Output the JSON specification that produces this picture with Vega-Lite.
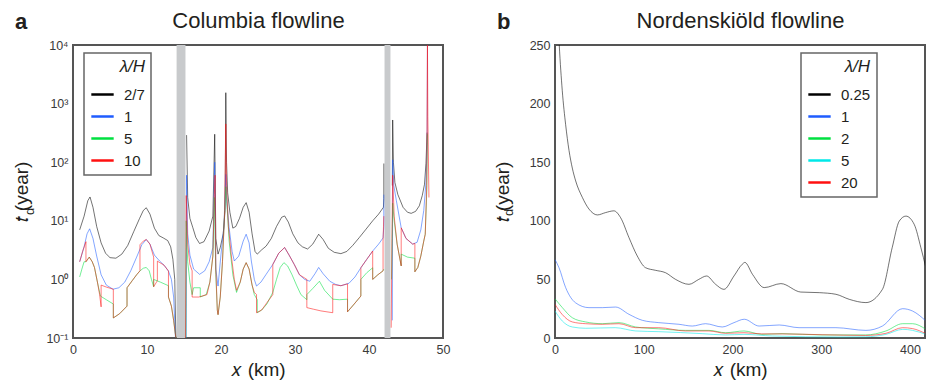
{
"$schema":"https://vega.github.io/schema/vega-lite/v6.json",
"background":"white",
"padding":{"left":11,"top":8,"right":1,"bottom":4},
"datasets":{
"columbia":[
{"s":"2/7","g":1,"i":1,"x":0.9,"y":7},{"s":"2/7","g":1,"i":2,"x":1.5,"y":12},{"s":"2/7","g":1,"i":3,"x":2.0,"y":22},{"s":"2/7","g":1,"i":4,"x":2.3,"y":25.5},{"s":"2/7","g":1,"i":5,"x":2.7,"y":17},{"s":"2/7","g":1,"i":6,"x":3.2,"y":8},{"s":"2/7","g":1,"i":7,"x":3.8,"y":4.2},{"s":"2/7","g":1,"i":8,"x":4.4,"y":2.8},{"s":"2/7","g":1,"i":9,"x":5.0,"y":2.35},{"s":"2/7","g":1,"i":10,"x":5.8,"y":2.3},{"s":"2/7","g":1,"i":11,"x":6.6,"y":2.7},{"s":"2/7","g":1,"i":12,"x":7.4,"y":3.8},{"s":"2/7","g":1,"i":13,"x":8.2,"y":6.5},{"s":"2/7","g":1,"i":14,"x":9.0,"y":11},{"s":"2/7","g":1,"i":15,"x":9.5,"y":15},{"s":"2/7","g":1,"i":16,"x":9.9,"y":16.7},{"s":"2/7","g":1,"i":17,"x":10.4,"y":13},{"s":"2/7","g":1,"i":18,"x":11.0,"y":7.5},{"s":"2/7","g":1,"i":19,"x":11.6,"y":5.6},{"s":"2/7","g":1,"i":20,"x":12.2,"y":5.1},{"s":"2/7","g":1,"i":21,"x":12.8,"y":4.6},{"s":"2/7","g":1,"i":22,"x":13.2,"y":3.6},{"s":"2/7","g":1,"i":23,"x":13.5,"y":2.2},{"s":"2/7","g":1,"i":24,"x":13.75,"y":1.0},{"s":"2/7","g":1,"i":25,"x":13.9,"y":0.1},
{"s":"2/7","g":2,"i":1,"x":15.35,"y":290},{"s":"2/7","g":2,"i":2,"x":15.5,"y":25},{"s":"2/7","g":2,"i":3,"x":15.8,"y":11},{"s":"2/7","g":2,"i":4,"x":16.2,"y":7.6},{"s":"2/7","g":2,"i":5,"x":16.6,"y":5.2},{"s":"2/7","g":2,"i":6,"x":17.1,"y":4.1},{"s":"2/7","g":2,"i":7,"x":17.7,"y":4.4},{"s":"2/7","g":2,"i":8,"x":18.4,"y":6.7},{"s":"2/7","g":2,"i":9,"x":18.9,"y":12},{"s":"2/7","g":2,"i":10,"x":19.15,"y":300},{"s":"2/7","g":2,"i":11,"x":19.3,"y":5},{"s":"2/7","g":2,"i":12,"x":19.6,"y":2.7},{"s":"2/7","g":2,"i":13,"x":19.9,"y":3.5},{"s":"2/7","g":2,"i":14,"x":20.3,"y":6},{"s":"2/7","g":2,"i":15,"x":20.55,"y":15},{"s":"2/7","g":2,"i":16,"x":20.65,"y":1535},{"s":"2/7","g":2,"i":17,"x":20.75,"y":100},{"s":"2/7","g":2,"i":18,"x":20.9,"y":30},{"s":"2/7","g":2,"i":19,"x":21.2,"y":14},{"s":"2/7","g":2,"i":20,"x":21.6,"y":7.5},{"s":"2/7","g":2,"i":21,"x":22.0,"y":8},{"s":"2/7","g":2,"i":22,"x":22.5,"y":11},{"s":"2/7","g":2,"i":23,"x":23.0,"y":17},{"s":"2/7","g":2,"i":24,"x":23.4,"y":20.4},{"s":"2/7","g":2,"i":25,"x":23.8,"y":14},{"s":"2/7","g":2,"i":26,"x":24.2,"y":6},{"s":"2/7","g":2,"i":27,"x":24.6,"y":3},{"s":"2/7","g":2,"i":28,"x":24.9,"y":2.7},{"s":"2/7","g":2,"i":29,"x":25.5,"y":3.2},{"s":"2/7","g":2,"i":30,"x":26.1,"y":3.7},{"s":"2/7","g":2,"i":31,"x":26.8,"y":5},{"s":"2/7","g":2,"i":32,"x":27.5,"y":8},{"s":"2/7","g":2,"i":33,"x":28.2,"y":11.5},{"s":"2/7","g":2,"i":34,"x":28.6,"y":12.1},{"s":"2/7","g":2,"i":35,"x":29.1,"y":9.5},{"s":"2/7","g":2,"i":36,"x":29.7,"y":6},{"s":"2/7","g":2,"i":37,"x":30.4,"y":4.2},{"s":"2/7","g":2,"i":38,"x":31.0,"y":3.6},{"s":"2/7","g":2,"i":39,"x":31.7,"y":3.3},{"s":"2/7","g":2,"i":40,"x":32.4,"y":4},{"s":"2/7","g":2,"i":41,"x":33.2,"y":5.9},{"s":"2/7","g":2,"i":42,"x":33.8,"y":4.8},{"s":"2/7","g":2,"i":43,"x":34.5,"y":3.4},{"s":"2/7","g":2,"i":44,"x":35.3,"y":2.9},{"s":"2/7","g":2,"i":45,"x":36.2,"y":2.75},{"s":"2/7","g":2,"i":46,"x":37.0,"y":3.0},{"s":"2/7","g":2,"i":47,"x":37.8,"y":3.8},{"s":"2/7","g":2,"i":48,"x":38.7,"y":5.2},{"s":"2/7","g":2,"i":49,"x":39.6,"y":7.2},{"s":"2/7","g":2,"i":50,"x":40.5,"y":10},{"s":"2/7","g":2,"i":51,"x":41.3,"y":13},{"s":"2/7","g":2,"i":52,"x":41.95,"y":17},{"s":"2/7","g":2,"i":53,"x":42.0,"y":24},{"s":"2/7","g":2,"i":54,"x":42.0,"y":95},
{"s":"2/7","g":3,"i":1,"x":43.15,"y":40},{"s":"2/7","g":3,"i":2,"x":43.2,"y":525},{"s":"2/7","g":3,"i":3,"x":43.3,"y":100},{"s":"2/7","g":3,"i":4,"x":43.5,"y":45},{"s":"2/7","g":3,"i":5,"x":43.9,"y":28},{"s":"2/7","g":3,"i":6,"x":44.6,"y":17},{"s":"2/7","g":3,"i":7,"x":45.2,"y":14},{"s":"2/7","g":3,"i":8,"x":45.7,"y":13.4},{"s":"2/7","g":3,"i":9,"x":46.3,"y":14.5},{"s":"2/7","g":3,"i":10,"x":46.8,"y":18},{"s":"2/7","g":3,"i":11,"x":47.2,"y":27},{"s":"2/7","g":3,"i":12,"x":47.5,"y":42},{"s":"2/7","g":3,"i":13,"x":47.7,"y":96},{"s":"2/7","g":3,"i":14,"x":47.85,"y":320},
{"s":"1","g":1,"i":1,"x":0.9,"y":2.0},{"s":"1","g":1,"i":2,"x":1.5,"y":3.6},{"s":"1","g":1,"i":3,"x":1.9,"y":6},{"s":"1","g":1,"i":4,"x":2.25,"y":7.3},{"s":"1","g":1,"i":5,"x":2.7,"y":5},{"s":"1","g":1,"i":6,"x":3.2,"y":2.5},{"s":"1","g":1,"i":7,"x":3.8,"y":1.2},{"s":"1","g":1,"i":8,"x":4.5,"y":0.8},{"s":"1","g":1,"i":9,"x":5.4,"y":0.68},{"s":"1","g":1,"i":10,"x":6.2,"y":0.72},{"s":"1","g":1,"i":11,"x":7.0,"y":0.9},{"s":"1","g":1,"i":12,"x":7.8,"y":1.4},{"s":"1","g":1,"i":13,"x":8.6,"y":2.4},{"s":"1","g":1,"i":14,"x":9.3,"y":3.9},{"s":"1","g":1,"i":15,"x":9.9,"y":4.8},{"s":"1","g":1,"i":16,"x":10.4,"y":4.0},{"s":"1","g":1,"i":17,"x":11.0,"y":2.6},{"s":"1","g":1,"i":18,"x":11.7,"y":2.06},{"s":"1","g":1,"i":19,"x":12.3,"y":1.75},{"s":"1","g":1,"i":20,"x":12.9,"y":1.39},{"s":"1","g":1,"i":21,"x":13.3,"y":1.0},{"s":"1","g":1,"i":22,"x":13.6,"y":0.5},{"s":"1","g":1,"i":23,"x":13.85,"y":0.1},
{"s":"1","g":2,"i":1,"x":15.3,"y":0.1},{"s":"1","g":2,"i":2,"x":15.35,"y":60},{"s":"1","g":2,"i":3,"x":15.5,"y":6},{"s":"1","g":2,"i":4,"x":15.8,"y":2.6},{"s":"1","g":2,"i":5,"x":16.3,"y":1.5},{"s":"1","g":2,"i":6,"x":17.1,"y":1.22},{"s":"1","g":2,"i":7,"x":17.8,"y":1.4},{"s":"1","g":2,"i":8,"x":18.4,"y":2.0},{"s":"1","g":2,"i":9,"x":18.9,"y":3.5},{"s":"1","g":2,"i":10,"x":19.15,"y":100},{"s":"1","g":2,"i":11,"x":19.3,"y":1.5},{"s":"1","g":2,"i":12,"x":19.6,"y":0.77},{"s":"1","g":2,"i":13,"x":20.0,"y":2.7},{"s":"1","g":2,"i":14,"x":20.4,"y":8},{"s":"1","g":2,"i":15,"x":20.65,"y":62},{"s":"1","g":2,"i":16,"x":20.8,"y":20},{"s":"1","g":2,"i":17,"x":21.1,"y":7.6},{"s":"1","g":2,"i":18,"x":21.5,"y":3.0},{"s":"1","g":2,"i":19,"x":21.8,"y":2.06},{"s":"1","g":2,"i":20,"x":22.4,"y":2.5},{"s":"1","g":2,"i":21,"x":23.0,"y":4.5},{"s":"1","g":2,"i":22,"x":23.4,"y":5.9},{"s":"1","g":2,"i":23,"x":23.8,"y":4.2},{"s":"1","g":2,"i":24,"x":24.1,"y":2.06},{"s":"1","g":2,"i":25,"x":24.5,"y":1.0},{"s":"1","g":2,"i":26,"x":24.8,"y":0.77},{"s":"1","g":2,"i":27,"x":25.4,"y":0.9},{"s":"1","g":2,"i":28,"x":26.1,"y":1.22},{"s":"1","g":2,"i":29,"x":27.0,"y":1.8},{"s":"1","g":2,"i":30,"x":27.8,"y":2.8},{"s":"1","g":2,"i":31,"x":28.6,"y":3.5},{"s":"1","g":2,"i":32,"x":29.2,"y":2.6},{"s":"1","g":2,"i":33,"x":29.9,"y":1.8},{"s":"1","g":2,"i":34,"x":30.6,"y":1.2},{"s":"1","g":2,"i":35,"x":31.3,"y":1.0},{"s":"1","g":2,"i":36,"x":32.0,"y":0.93},{"s":"1","g":2,"i":37,"x":32.7,"y":1.25},{"s":"1","g":2,"i":38,"x":33.2,"y":1.6},{"s":"1","g":2,"i":39,"x":33.8,"y":1.25},{"s":"1","g":2,"i":40,"x":34.7,"y":0.93},{"s":"1","g":2,"i":41,"x":35.5,"y":0.82},{"s":"1","g":2,"i":42,"x":36.2,"y":0.78},{"s":"1","g":2,"i":43,"x":37.3,"y":0.86},{"s":"1","g":2,"i":44,"x":38.1,"y":1.1},{"s":"1","g":2,"i":45,"x":38.9,"y":1.58},{"s":"1","g":2,"i":46,"x":39.7,"y":2.2},{"s":"1","g":2,"i":47,"x":40.5,"y":3.05},{"s":"1","g":2,"i":48,"x":41.3,"y":4.0},{"s":"1","g":2,"i":49,"x":41.9,"y":5.1},{"s":"1","g":2,"i":50,"x":42.0,"y":8},{"s":"1","g":2,"i":51,"x":42.0,"y":28},
{"s":"1","g":3,"i":1,"x":43.15,"y":0.2},{"s":"1","g":3,"i":2,"x":43.2,"y":110},{"s":"1","g":3,"i":3,"x":43.35,"y":40},{"s":"1","g":3,"i":4,"x":43.7,"y":22},{"s":"1","g":3,"i":5,"x":44.35,"y":7.6},{"s":"1","g":3,"i":6,"x":45.0,"y":5},{"s":"1","g":3,"i":7,"x":45.9,"y":4.0},{"s":"1","g":3,"i":8,"x":46.5,"y":4.3},{"s":"1","g":3,"i":9,"x":47.0,"y":7},{"s":"1","g":3,"i":10,"x":47.4,"y":15},{"s":"1","g":3,"i":11,"x":47.7,"y":45},{"s":"1","g":3,"i":12,"x":47.85,"y":200},{"s":"1","g":3,"i":13,"x":47.9,"y":10000},
{"s":"5","g":1,"i":1,"x":0.9,"y":1.1},{"s":"5","g":1,"i":2,"x":1.2,"y":1.5},{"s":"5","g":1,"i":3,"x":1.5,"y":2.0},{"s":"5","g":1,"i":4,"x":1.75,"y":2.0},{"s":"5","g":1,"i":5,"x":2.2,"y":2.4},{"s":"5","g":1,"i":6,"x":2.6,"y":2.0},{"s":"5","g":1,"i":7,"x":2.9,"y":1.6},{"s":"5","g":1,"i":8,"x":3.3,"y":0.9},{"s":"5","g":1,"i":9,"x":3.7,"y":0.52},{"s":"5","g":1,"i":10,"x":4.5,"y":0.45},{"s":"5","g":1,"i":11,"x":5.45,"y":0.38},{"s":"5","g":1,"i":12,"x":5.45,"y":0.22},{"s":"5","g":1,"i":13,"x":6.3,"y":0.26},{"s":"5","g":1,"i":14,"x":7.3,"y":0.35},{"s":"5","g":1,"i":15,"x":7.3,"y":0.72},{"s":"5","g":1,"i":16,"x":8.0,"y":0.95},{"s":"5","g":1,"i":17,"x":8.6,"y":1.2},{"s":"5","g":1,"i":18,"x":9.05,"y":1.4},{"s":"5","g":1,"i":19,"x":9.5,"y":1.55},{"s":"5","g":1,"i":20,"x":9.9,"y":1.6},{"s":"5","g":1,"i":21,"x":10.3,"y":1.4},{"s":"5","g":1,"i":22,"x":10.6,"y":1.0},{"s":"5","g":1,"i":23,"x":10.9,"y":0.75},{"s":"5","g":1,"i":24,"x":10.9,"y":1.0},{"s":"5","g":1,"i":25,"x":11.8,"y":0.9},{"s":"5","g":1,"i":26,"x":12.9,"y":0.78},{"s":"5","g":1,"i":27,"x":12.9,"y":0.5},{"s":"5","g":1,"i":28,"x":13.3,"y":0.35},{"s":"5","g":1,"i":29,"x":13.6,"y":0.2},{"s":"5","g":1,"i":30,"x":13.9,"y":0.1},
{"s":"5","g":2,"i":1,"x":15.25,"y":0.1},{"s":"5","g":2,"i":2,"x":15.3,"y":10},{"s":"5","g":2,"i":3,"x":15.5,"y":2},{"s":"5","g":2,"i":4,"x":15.8,"y":0.9},{"s":"5","g":2,"i":5,"x":16.1,"y":0.55},{"s":"5","g":2,"i":6,"x":16.3,"y":0.72},{"s":"5","g":2,"i":7,"x":17.2,"y":0.72},{"s":"5","g":2,"i":8,"x":17.2,"y":0.5},{"s":"5","g":2,"i":9,"x":18.0,"y":0.55},{"s":"5","g":2,"i":10,"x":18.5,"y":0.9},{"s":"5","g":2,"i":11,"x":18.9,"y":2.5},{"s":"5","g":2,"i":12,"x":19.1,"y":25},{"s":"5","g":2,"i":13,"x":19.3,"y":1.2},{"s":"5","g":2,"i":14,"x":19.5,"y":0.3},{"s":"5","g":2,"i":15,"x":19.6,"y":0.25},{"s":"5","g":2,"i":16,"x":19.9,"y":0.5},{"s":"5","g":2,"i":17,"x":20.2,"y":2},{"s":"5","g":2,"i":18,"x":20.5,"y":15},{"s":"5","g":2,"i":19,"x":20.65,"y":38},{"s":"5","g":2,"i":20,"x":20.8,"y":20},{"s":"5","g":2,"i":21,"x":21.1,"y":4.5},{"s":"5","g":2,"i":22,"x":21.6,"y":1.2},{"s":"5","g":2,"i":23,"x":22.1,"y":0.6},{"s":"5","g":2,"i":24,"x":22.6,"y":0.9},{"s":"5","g":2,"i":25,"x":23.0,"y":1.5},{"s":"5","g":2,"i":26,"x":23.4,"y":1.93},{"s":"5","g":2,"i":27,"x":23.8,"y":1.5},{"s":"5","g":2,"i":28,"x":24.2,"y":0.8},{"s":"5","g":2,"i":29,"x":24.5,"y":0.55},{"s":"5","g":2,"i":30,"x":24.9,"y":0.45},{"s":"5","g":2,"i":31,"x":24.9,"y":0.27},{"s":"5","g":2,"i":32,"x":25.5,"y":0.3},{"s":"5","g":2,"i":33,"x":26.2,"y":0.38},{"s":"5","g":2,"i":34,"x":27.0,"y":0.6},{"s":"5","g":2,"i":35,"x":27.5,"y":1.0},{"s":"5","g":2,"i":36,"x":28.0,"y":1.6},{"s":"5","g":2,"i":37,"x":28.5,"y":1.93},{"s":"5","g":2,"i":38,"x":29.0,"y":1.7},{"s":"5","g":2,"i":39,"x":29.6,"y":1.2},{"s":"5","g":2,"i":40,"x":30.2,"y":0.8},{"s":"5","g":2,"i":41,"x":30.8,"y":0.55},{"s":"5","g":2,"i":42,"x":31.6,"y":0.45},{"s":"5","g":2,"i":43,"x":31.6,"y":0.55},{"s":"5","g":2,"i":44,"x":32.4,"y":0.7},{"s":"5","g":2,"i":45,"x":33.3,"y":0.93},{"s":"5","g":2,"i":46,"x":34.0,"y":0.65},{"s":"5","g":2,"i":47,"x":35.1,"y":0.46},{"s":"5","g":2,"i":48,"x":36.0,"y":0.45},{"s":"5","g":2,"i":49,"x":37.1,"y":0.46},{"s":"5","g":2,"i":50,"x":37.1,"y":0.28},{"s":"5","g":2,"i":51,"x":38.0,"y":0.38},{"s":"5","g":2,"i":52,"x":38.9,"y":0.52},{"s":"5","g":2,"i":53,"x":38.9,"y":1.0},{"s":"5","g":2,"i":54,"x":39.7,"y":1.3},{"s":"5","g":2,"i":55,"x":40.5,"y":1.58},{"s":"5","g":2,"i":56,"x":40.5,"y":1.0},{"s":"5","g":2,"i":57,"x":41.2,"y":1.2},{"s":"5","g":2,"i":58,"x":41.9,"y":1.4},{"s":"5","g":2,"i":59,"x":42.0,"y":1.5},
{"s":"5","g":3,"i":1,"x":43.05,"y":1.0},{"s":"5","g":3,"i":2,"x":43.2,"y":20},{"s":"5","g":3,"i":3,"x":43.4,"y":10},{"s":"5","g":3,"i":4,"x":43.8,"y":4},{"s":"5","g":3,"i":5,"x":44.35,"y":1.7},{"s":"5","g":3,"i":6,"x":44.35,"y":2.7},{"s":"5","g":3,"i":7,"x":45.2,"y":2.4},{"s":"5","g":3,"i":8,"x":46.2,"y":2.3},{"s":"5","g":3,"i":9,"x":46.2,"y":1.35},{"s":"5","g":3,"i":10,"x":46.6,"y":1.6},{"s":"5","g":3,"i":11,"x":47.0,"y":2.5},{"s":"5","g":3,"i":12,"x":47.4,"y":4.5},{"s":"5","g":3,"i":13,"x":47.6,"y":5.9},{"s":"5","g":3,"i":14,"x":47.8,"y":30},{"s":"5","g":3,"i":15,"x":47.9,"y":300},
{"s":"10","g":1,"i":1,"x":0.9,"y":2.0},{"s":"10","g":1,"i":2,"x":1.3,"y":3.0},{"s":"10","g":1,"i":3,"x":1.75,"y":4.4},{"s":"10","g":1,"i":4,"x":1.75,"y":2.0},{"s":"10","g":1,"i":5,"x":2.2,"y":2.4},{"s":"10","g":1,"i":6,"x":2.6,"y":2.0},{"s":"10","g":1,"i":7,"x":2.9,"y":1.6},{"s":"10","g":1,"i":8,"x":3.3,"y":0.9},{"s":"10","g":1,"i":9,"x":3.6,"y":0.55},{"s":"10","g":1,"i":10,"x":3.8,"y":0.34},{"s":"10","g":1,"i":11,"x":3.8,"y":0.8},{"s":"10","g":1,"i":12,"x":4.5,"y":0.74},{"s":"10","g":1,"i":13,"x":5.45,"y":0.68},{"s":"10","g":1,"i":14,"x":5.45,"y":0.22},{"s":"10","g":1,"i":15,"x":6.3,"y":0.26},{"s":"10","g":1,"i":16,"x":7.3,"y":0.35},{"s":"10","g":1,"i":17,"x":7.3,"y":0.72},{"s":"10","g":1,"i":18,"x":8.0,"y":0.95},{"s":"10","g":1,"i":19,"x":8.6,"y":1.2},{"s":"10","g":1,"i":20,"x":9.05,"y":1.4},{"s":"10","g":1,"i":21,"x":9.05,"y":3.9},{"s":"10","g":1,"i":22,"x":9.5,"y":4.5},{"s":"10","g":1,"i":23,"x":9.9,"y":4.8},{"s":"10","g":1,"i":24,"x":10.4,"y":4.0},{"s":"10","g":1,"i":25,"x":10.9,"y":2.4},{"s":"10","g":1,"i":26,"x":10.9,"y":0.75},{"s":"10","g":1,"i":27,"x":11.4,"y":0.95},{"s":"10","g":1,"i":28,"x":11.4,"y":2.05},{"s":"10","g":1,"i":29,"x":12.3,"y":1.75},{"s":"10","g":1,"i":30,"x":12.9,"y":1.39},{"s":"10","g":1,"i":31,"x":12.9,"y":0.5},{"s":"10","g":1,"i":32,"x":13.3,"y":0.35},{"s":"10","g":1,"i":33,"x":13.6,"y":0.2},{"s":"10","g":1,"i":34,"x":13.9,"y":0.1},
{"s":"10","g":2,"i":1,"x":15.2,"y":0.1},{"s":"10","g":2,"i":2,"x":15.3,"y":27},{"s":"10","g":2,"i":3,"x":15.5,"y":4},{"s":"10","g":2,"i":4,"x":15.8,"y":1.8},{"s":"10","g":2,"i":5,"x":16.1,"y":1.4},{"s":"10","g":2,"i":6,"x":16.1,"y":0.5},{"s":"10","g":2,"i":7,"x":17.0,"y":0.5},{"s":"10","g":2,"i":8,"x":18.1,"y":0.55},{"s":"10","g":2,"i":9,"x":18.5,"y":0.9},{"s":"10","g":2,"i":10,"x":18.9,"y":2.5},{"s":"10","g":2,"i":11,"x":19.1,"y":28},{"s":"10","g":2,"i":12,"x":19.2,"y":60},{"s":"10","g":2,"i":13,"x":19.3,"y":1.5},{"s":"10","g":2,"i":14,"x":19.5,"y":0.3},{"s":"10","g":2,"i":15,"x":19.6,"y":0.25},{"s":"10","g":2,"i":16,"x":19.9,"y":0.5},{"s":"10","g":2,"i":17,"x":20.2,"y":2},{"s":"10","g":2,"i":18,"x":20.5,"y":15},{"s":"10","g":2,"i":19,"x":20.65,"y":450},{"s":"10","g":2,"i":20,"x":20.75,"y":40},{"s":"10","g":2,"i":21,"x":21.0,"y":8},{"s":"10","g":2,"i":22,"x":21.4,"y":2.5},{"s":"10","g":2,"i":23,"x":21.8,"y":1.0},{"s":"10","g":2,"i":24,"x":22.1,"y":0.65},{"s":"10","g":2,"i":25,"x":22.6,"y":0.9},{"s":"10","g":2,"i":26,"x":23.0,"y":1.5},{"s":"10","g":2,"i":27,"x":23.4,"y":1.93},{"s":"10","g":2,"i":28,"x":23.8,"y":1.5},{"s":"10","g":2,"i":29,"x":24.2,"y":0.8},{"s":"10","g":2,"i":30,"x":24.5,"y":0.6},{"s":"10","g":2,"i":31,"x":24.8,"y":0.55},{"s":"10","g":2,"i":32,"x":24.8,"y":0.27},{"s":"10","g":2,"i":33,"x":25.5,"y":0.3},{"s":"10","g":2,"i":34,"x":26.2,"y":0.4},{"s":"10","g":2,"i":35,"x":27.0,"y":0.55},{"s":"10","g":2,"i":36,"x":27.0,"y":1.8},{"s":"10","g":2,"i":37,"x":27.8,"y":2.8},{"s":"10","g":2,"i":38,"x":28.6,"y":3.5},{"s":"10","g":2,"i":39,"x":29.2,"y":2.6},{"s":"10","g":2,"i":40,"x":29.9,"y":1.8},{"s":"10","g":2,"i":41,"x":30.6,"y":1.2},{"s":"10","g":2,"i":42,"x":31.6,"y":1.0},{"s":"10","g":2,"i":43,"x":31.6,"y":0.33},{"s":"10","g":2,"i":44,"x":32.5,"y":0.31},{"s":"10","g":2,"i":45,"x":33.5,"y":0.29},{"s":"10","g":2,"i":46,"x":35.1,"y":0.27},{"s":"10","g":2,"i":47,"x":35.1,"y":0.82},{"s":"10","g":2,"i":48,"x":36.2,"y":0.78},{"s":"10","g":2,"i":49,"x":37.1,"y":0.84},{"s":"10","g":2,"i":50,"x":37.1,"y":0.28},{"s":"10","g":2,"i":51,"x":38.0,"y":0.38},{"s":"10","g":2,"i":52,"x":38.9,"y":0.52},{"s":"10","g":2,"i":53,"x":38.9,"y":1.58},{"s":"10","g":2,"i":54,"x":39.7,"y":2.2},{"s":"10","g":2,"i":55,"x":40.5,"y":3.05},{"s":"10","g":2,"i":56,"x":40.5,"y":1.0},{"s":"10","g":2,"i":57,"x":41.2,"y":1.2},{"s":"10","g":2,"i":58,"x":41.9,"y":1.4},{"s":"10","g":2,"i":59,"x":41.9,"y":4.5},{"s":"10","g":2,"i":60,"x":42.0,"y":12},
{"s":"10","g":3,"i":1,"x":43.0,"y":0.15},{"s":"10","g":3,"i":2,"x":43.1,"y":5},{"s":"10","g":3,"i":3,"x":43.2,"y":60},{"s":"10","g":3,"i":4,"x":43.4,"y":12},{"s":"10","g":3,"i":5,"x":43.8,"y":4},{"s":"10","g":3,"i":6,"x":44.35,"y":1.7},{"s":"10","g":3,"i":7,"x":44.35,"y":7.6},{"s":"10","g":3,"i":8,"x":45.0,"y":5},{"s":"10","g":3,"i":9,"x":45.9,"y":4.0},{"s":"10","g":3,"i":10,"x":46.2,"y":4.1},{"s":"10","g":3,"i":11,"x":46.2,"y":1.35},{"s":"10","g":3,"i":12,"x":46.6,"y":1.6},{"s":"10","g":3,"i":13,"x":47.0,"y":2.5},{"s":"10","g":3,"i":14,"x":47.4,"y":4.5},{"s":"10","g":3,"i":15,"x":47.6,"y":5.9},{"s":"10","g":3,"i":16,"x":47.8,"y":40},{"s":"10","g":3,"i":17,"x":47.9,"y":10000},{"s":"10","g":3,"i":18,"x":47.95,"y":600},{"s":"10","g":3,"i":19,"x":48.1,"y":25}
],
"bands":[{"a":14.0,"b":15.2},{"a":42.1,"b":42.9}],
"norden":[
{"s":"0.25","i":1,"x":3.5,"y":270},{"s":"0.25","i":2,"x":4.8,"y":250},{"s":"0.25","i":3,"x":8.2,"y":211},{"s":"0.25","i":4,"x":12,"y":182},{"s":"0.25","i":5,"x":15.8,"y":160},{"s":"0.25","i":6,"x":19.5,"y":145},{"s":"0.25","i":7,"x":23.3,"y":134},{"s":"0.25","i":8,"x":30.8,"y":120},{"s":"0.25","i":9,"x":38.3,"y":110},{"s":"0.25","i":10,"x":47.7,"y":105},{"s":"0.25","i":11,"x":57,"y":107},{"s":"0.25","i":12,"x":66.4,"y":108.5},{"s":"0.25","i":13,"x":74,"y":102.6},{"s":"0.25","i":14,"x":83.4,"y":85.6},{"s":"0.25","i":15,"x":92.7,"y":70},{"s":"0.25","i":16,"x":102,"y":60},{"s":"0.25","i":17,"x":113,"y":57.8},{"s":"0.25","i":18,"x":124.6,"y":55.7},{"s":"0.25","i":19,"x":135.9,"y":50},{"s":"0.25","i":20,"x":151,"y":45.8},{"s":"0.25","i":21,"x":162,"y":50},{"s":"0.25","i":22,"x":170.8,"y":52.9},{"s":"0.25","i":23,"x":181,"y":45.8},{"s":"0.25","i":24,"x":190.4,"y":41.5},{"s":"0.25","i":25,"x":201.7,"y":52.9},{"s":"0.25","i":26,"x":211,"y":62.9},{"s":"0.25","i":27,"x":214,"y":64.5},{"s":"0.25","i":28,"x":222.6,"y":54.3},{"s":"0.25","i":29,"x":235.8,"y":43},{"s":"0.25","i":30,"x":254.6,"y":46.4},{"s":"0.25","i":31,"x":277,"y":39.2},{"s":"0.25","i":32,"x":297.8,"y":38.7},{"s":"0.25","i":33,"x":316.6,"y":37.3},{"s":"0.25","i":34,"x":331.6,"y":33},{"s":"0.25","i":35,"x":350.4,"y":30.2},{"s":"0.25","i":36,"x":369,"y":41.5},{"s":"0.25","i":37,"x":380,"y":77},{"s":"0.25","i":38,"x":388,"y":99.8},{"s":"0.25","i":39,"x":395.5,"y":104},{"s":"0.25","i":40,"x":404.8,"y":97},{"s":"0.25","i":41,"x":412.4,"y":77},{"s":"0.25","i":42,"x":418,"y":60},
{"s":"1","i":1,"x":0,"y":67},{"s":"1","i":2,"x":4.5,"y":60},{"s":"1","i":3,"x":12,"y":43},{"s":"1","i":4,"x":23.2,"y":30},{"s":"1","i":5,"x":38.3,"y":25.9},{"s":"1","i":6,"x":53.3,"y":25.9},{"s":"1","i":7,"x":68.3,"y":26.4},{"s":"1","i":8,"x":83.4,"y":20.2},{"s":"1","i":9,"x":98.4,"y":15.1},{"s":"1","i":10,"x":117,"y":13.1},{"s":"1","i":11,"x":139.7,"y":11.7},{"s":"1","i":12,"x":154.7,"y":10.2},{"s":"1","i":13,"x":169.7,"y":12.2},{"s":"1","i":14,"x":188.5,"y":9.4},{"s":"1","i":15,"x":201.7,"y":13.1},{"s":"1","i":16,"x":213.3,"y":16},{"s":"1","i":17,"x":230,"y":10.2},{"s":"1","i":18,"x":252.7,"y":11.1},{"s":"1","i":19,"x":275,"y":8.8},{"s":"1","i":20,"x":316.6,"y":8.8},{"s":"1","i":21,"x":350.4,"y":6.5},{"s":"1","i":22,"x":369,"y":10.2},{"s":"1","i":23,"x":391.7,"y":25},{"s":"1","i":24,"x":403,"y":23},{"s":"1","i":25,"x":418,"y":14.5},
{"s":"2","i":1,"x":0,"y":33.5},{"s":"2","i":2,"x":8.2,"y":26},{"s":"2","i":3,"x":19.5,"y":17.3},{"s":"2","i":4,"x":34.5,"y":13.7},{"s":"2","i":5,"x":53.3,"y":12.2},{"s":"2","i":6,"x":72.1,"y":13.1},{"s":"2","i":7,"x":90.9,"y":9.4},{"s":"2","i":8,"x":117,"y":7.8},{"s":"2","i":9,"x":147,"y":6.5},{"s":"2","i":10,"x":173.5,"y":6.5},{"s":"2","i":11,"x":192.3,"y":4.5},{"s":"2","i":12,"x":213,"y":6.0},{"s":"2","i":13,"x":233,"y":3.1},{"s":"2","i":14,"x":256,"y":3.7},{"s":"2","i":15,"x":301,"y":2.6},{"s":"2","i":16,"x":350,"y":2.6},{"s":"2","i":17,"x":373,"y":6},{"s":"2","i":18,"x":391.7,"y":12.2},{"s":"2","i":19,"x":403,"y":12.2},{"s":"2","i":20,"x":418,"y":7.4},
{"s":"5","i":1,"x":0,"y":23},{"s":"5","i":2,"x":8.2,"y":14.5},{"s":"5","i":3,"x":19.5,"y":9.4},{"s":"5","i":4,"x":34.5,"y":8.3},{"s":"5","i":5,"x":68,"y":8.8},{"s":"5","i":6,"x":90.9,"y":6},{"s":"5","i":7,"x":117,"y":5.4},{"s":"5","i":8,"x":166,"y":3.7},{"s":"5","i":9,"x":192,"y":2.6},{"s":"5","i":10,"x":213,"y":3.1},{"s":"5","i":11,"x":245,"y":1.7},{"s":"5","i":12,"x":320,"y":0.85},{"s":"5","i":13,"x":350,"y":1.0},{"s":"5","i":14,"x":373,"y":3.1},{"s":"5","i":15,"x":392,"y":7.4},{"s":"5","i":16,"x":403,"y":6.5},{"s":"5","i":17,"x":418,"y":3.1},
{"s":"20","i":1,"x":0,"y":28.7},{"s":"20","i":2,"x":8.2,"y":20},{"s":"20","i":3,"x":19.5,"y":13.7},{"s":"20","i":4,"x":34.5,"y":12.2},{"s":"20","i":5,"x":53.3,"y":11.7},{"s":"20","i":6,"x":72.1,"y":12.2},{"s":"20","i":7,"x":90.9,"y":8.8},{"s":"20","i":8,"x":117,"y":8.8},{"s":"20","i":9,"x":147,"y":6},{"s":"20","i":10,"x":173.5,"y":6},{"s":"20","i":11,"x":192.3,"y":4},{"s":"20","i":12,"x":213,"y":4.5},{"s":"20","i":13,"x":233,"y":3.5},{"s":"20","i":14,"x":256,"y":3.5},{"s":"20","i":15,"x":301,"y":2.8},{"s":"20","i":16,"x":350,"y":2.2},{"s":"20","i":17,"x":373,"y":4},{"s":"20","i":18,"x":391.7,"y":8.8},{"s":"20","i":19,"x":403,"y":8},{"s":"20","i":20,"x":418,"y":3.7}
]
},
"hconcat":[
{
"width":370,"height":293,
"title":{"text":"a","anchor":"start","frame":"group","fontSize":22,"fontWeight":"bold","color":"#231f20","dx":-58,"dy":42,"offset":0,"baseline":"alphabetic"},
"layer":[
{"data":{"name":"bands"},"mark":{"type":"rect","color":"#c8cacc"},
"encoding":{"x":{"field":"a","type":"quantitative","scale":{"domain":[0,50]},"axis":null},"x2":{"field":"b"}}},
{"data":{"name":"columbia"},"transform":[{"filter":"datum.s == '2/7'"}],
"mark":{"type":"line","strokeWidth":1,"opacity":0.55,"clip":true},
"encoding":{
"x":{"field":"x","type":"quantitative","scale":{"domain":[0,50]},"axis":{"orient":"top","labels":false,"grid":false,"title":"Columbia flowline","titleFontSize":22,"titlePadding":18,"titleBaseline":"alphabetic"}},
"y":{"field":"y","type":"quantitative","scale":{"type":"log","domain":[0.1,10000]},"axis":{"orient":"right","labels":false,"grid":false,"title":"d","titleFontSize":13,"titleAngle":270,"titleX":-410,"titleY":166,"titleAlign":"center","titleBaseline":"alphabetic"}},
"color":{"field":"s","type":"nominal","scale":{"domain":["2/7","1","5","10"],"range":["#000000","#1f5cff","#00e040","#ff1010"]},"legend":{"title":"λ/H","orient":"none","legendX":11,"legendY":8}},
"detail":{"field":"g"},
"order":{"field":"i","type":"quantitative"}}},
{"data":{"name":"columbia"},"transform":[{"filter":"datum.s != '2/7'"}],
"mark":{"type":"line","strokeWidth":1,"opacity":0.55,"clip":true},
"encoding":{
"x":{"field":"x","type":"quantitative","scale":{"domain":[0,50]},"axis":{"orient":"bottom","title":"𝑥 (km)","values":[0,10,20,30,40,50],"titlePadding":5}},
"y":{"field":"y","type":"quantitative","scale":{"type":"log","domain":[0.1,10000]},"axis":{"orient":"left","title":"𝑡     (year)","values":[0.1,1,10,100,1000,10000],"labelExpr":"datum.value < 0.5 ? '10⁻¹' : datum.value < 5 ? '10⁰' : datum.value < 50 ? '10¹' : datum.value < 500 ? '10²' : datum.value < 5000 ? '10³' : '10⁴'","titlePadding":14}},
"color":{"field":"s","type":"nominal","scale":{"domain":["2/7","1","5","10"],"range":["#000000","#1f5cff","#00e040","#ff1010"]},"legend":{"title":"λ/H","orient":"none","legendX":11,"legendY":8}},
"detail":{"field":"g"},
"order":{"field":"i","type":"quantitative"}}}
],
"resolve":{"axis":{"x":"independent","y":"independent"}}
},
{
"width":370,"height":293,
"title":{"text":"b","anchor":"start","frame":"group","fontSize":22,"fontWeight":"bold","color":"#231f20","dx":-58,"dy":42,"offset":0,"baseline":"alphabetic"},
"layer":[
{"data":{"name":"norden"},"transform":[{"filter":"datum.s == '0.25'"}],
"mark":{"type":"line","strokeWidth":1,"opacity":0.55,"clip":true,"interpolate":"monotone"},
"encoding":{
"x":{"field":"x","type":"quantitative","scale":{"domain":[0,417]},"axis":{"orient":"top","labels":false,"grid":false,"title":"Nordenskiöld flowline","titleFontSize":22,"titlePadding":18,"titleBaseline":"alphabetic"}},
"y":{"field":"y","type":"quantitative","scale":{"domain":[0,250]},"axis":{"orient":"right","labels":false,"grid":false,"title":"d","titleFontSize":13,"titleAngle":270,"titleX":-413,"titleY":167,"titleAlign":"center","titleBaseline":"alphabetic"}},
"color":{"field":"s","type":"nominal","scale":{"domain":["0.25","1","2","5","20"],"range":["#000000","#1f5cff","#00e040","#00e8e8","#ff1010"]},"legend":{"title":"λ/H","orient":"none","legendX":246,"legendY":8}},
"order":{"field":"i","type":"quantitative"}}},
{"data":{"name":"norden"},"transform":[{"filter":"datum.s != '0.25'"}],
"mark":{"type":"line","strokeWidth":1,"opacity":0.55,"clip":true,"interpolate":"monotone"},
"encoding":{
"x":{"field":"x","type":"quantitative","scale":{"domain":[0,417]},"axis":{"orient":"bottom","title":"𝑥 (km)","values":[0,100,200,300,400],"titlePadding":5}},
"y":{"field":"y","type":"quantitative","scale":{"domain":[0,250]},"axis":{"orient":"left","title":"𝑡     (year)","values":[0,50,100,150,200,250],"titlePadding":17}},
"color":{"field":"s","type":"nominal","scale":{"domain":["0.25","1","2","5","20"],"range":["#000000","#1f5cff","#00e040","#00e8e8","#ff1010"]},"legend":{"title":"λ/H","orient":"none","legendX":246,"legendY":8}},
"order":{"field":"i","type":"quantitative"}}}
],
"resolve":{"axis":{"x":"independent","y":"independent"}}
}
],
"spacing":112,
"bounds":"flush",
"resolve":{"scale":{"color":"independent"},"legend":{"color":"independent"}},
"config":{
"font":"Liberation Sans",
"view":{"stroke":"#555555","strokeWidth":2},
"axis":{"domain":false,"ticks":false,"grid":true,"gridColor":"#333333","gridWidth":2,"gridOpacity":1,"labelFontSize":12.5,"labelColor":"#3a3a3a","labelPadding":5,"labelFlush":false,"labelOverlap":false,"titleFontSize":19,"titleFontWeight":"normal","titleColor":"#231f20"},
"axisX":{"gridDash":[5,283,5]},
"axisY":{"gridDash":[5,360,5]},
"legend":{"symbolType":"stroke","symbolSize":500,"symbolStrokeWidth":2.5,"symbolOpacity":1,"labelFontSize":15,"labelColor":"#231f20","labelOffset":9,"titleFontSize":17,"titleFontStyle":"italic","titleFontWeight":"normal","titleColor":"#231f20","titleAnchor":"end","titlePadding":6,"padding":6,"rowPadding":1,"strokeColor":"#666666","fillColor":"white","strokeWidth":1.5}
}
}
